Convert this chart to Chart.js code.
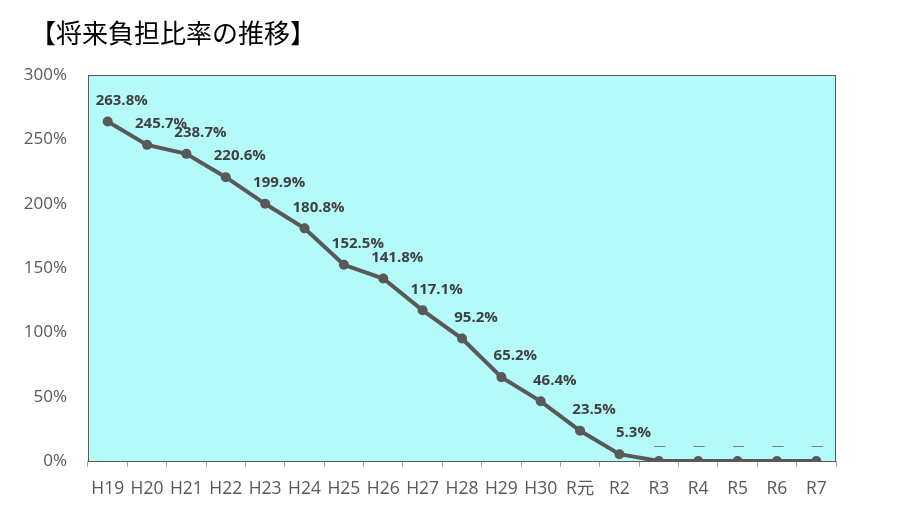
<!DOCTYPE html>
<html>
<head>
<meta charset="utf-8">
<script src="https://cdn.jsdelivr.net/npm/chart.js@4/dist/chart.umd.min.js"></script>
<style>
	html, body { margin: 0; padding: 0; background: #ffffff; }
	#wrap { width: 899px; height: 525px; }
</style>
</head>
<body>
<div id="wrap"><canvas id="cnv_ratio"></canvas></div>
<script>
// categories (fiscal years)
const years = ["H19", "H20", "H21", "H22", "H23", "H24", "H25", "H26", "H27", "H28", "H29", "H30", "R元", "R2", "R3", "R4", "R5", "R6", "R7"];
// future burden ratio, %
const ratioValues = [263.8, 245.7, 238.7, 220.6, 199.9, 180.8, 152.5, 141.8, 117.1, 95.2, 65.2, 46.4, 23.5, 5.3, 0, 0, 0, 0, 0];
// text shown above each point
const ratioLabels = ["263.8%", "245.7%", "238.7%", "220.6%", "199.9%", "180.8%", "152.5%", "141.8%", "117.1%", "95.2%", "65.2%", "46.4%", "23.5%", "5.3%", "―", "―", "―", "―", "―"];
const yTicks = [0, 50, 100, 150, 200, 250, 300];
const chartTitle = "【将来負担比率の推移】";

const lineColor = "#595959";

// plot area fill + border, and the title (drawn by hand so it can sit indented)
const plotArea = {
	id: "plotArea",
	beforeDraw(chart) {
		const { ctx, chartArea: a } = chart;
		ctx.save();
		ctx.fillStyle = "#b3faf8";
		ctx.fillRect(a.left, a.top, a.right - a.left, a.bottom - a.top);
		ctx.fillStyle = "#000000";
		ctx.font = "26px 'Noto Sans CJK JP'";
		ctx.textAlign = "left";
		ctx.textBaseline = "middle";
		ctx.fillText(chartTitle, 30, 33);
		ctx.restore();
	},
	afterDatasetsDraw(chart) {
		const { ctx, chartArea: a } = chart;
		ctx.save();
		ctx.strokeStyle = lineColor;
		ctx.lineWidth = 1;
		ctx.strokeRect(a.left + 0.5, a.top + 0.5, a.right - a.left - 1, a.bottom - a.top);
		ctx.restore();
	}
}

// point labels, like Excel data labels
const pointLabels = {
	id: "pointLabels",
	afterDatasetsDraw(chart) {
		const { ctx } = chart;
		const meta = chart.getDatasetMeta(0);
		ctx.save();
		ctx.fillStyle = "#404040";
		ctx.textAlign = "center";
		ctx.textBaseline = "middle";
		meta.data.forEach((pt, i) => {
			const txt = ratioLabels[i];
			const dash = txt === "―";
			const dx = dash ? 1 : 14;
			const dy = dash ? -15 : -21;
			ctx.font = dash ? "bold 13px 'Noto Sans CJK JP', sans-serif" : "bold 15px 'Open Sans', 'DejaVu Sans', sans-serif";
			ctx.fillText(txt, pt.x + dx, pt.y + dy);
		});
		ctx.restore();
	}
}

const ctx = document.getElementById("cnv_ratio").getContext("2d");
const ratioChart = new Chart(ctx, {
	type: "line",
	plugins: [plotArea, pointLabels],
	data: {
		labels: years,
		datasets: [{
			data: ratioValues,
			borderColor: lineColor,
			backgroundColor: lineColor,
			borderWidth: 4,
			pointRadius: 5,
			pointBackgroundColor: lineColor,
			pointBorderWidth: 0,
			tension: 0
		}]
	},
	options: {
		responsive: true,
		maintainAspectRatio: false,
		animation: false,
		layout: { padding: { left: 0, right: 63, top: 75, bottom: 14 } },
		plugins: {
			legend: { display: false },
			tooltip: { enabled: false },
			title: { display: false }
		},
		scales: {
			x: {
				offset: true,
				grid: {
					display: true,
					drawOnChartArea: false,
					offset: true,
					tickLength: 6,
					color: "#a6a6a6"
				},
				border: { display: false },
				ticks: {
					color: lineColor,
					padding: 12,
					maxRotation: 0,
					autoSkip: false,
					font: { family: "'Open Sans', 'Noto Sans CJK JP', sans-serif", size: 17.5 }
				},
				afterFit: (scale) => { scale.height = 50; }
			},
			y: {
				min: 0,
				max: 300,
				afterBuildTicks: (scale) => { scale.ticks = yTicks.map(v => ({ value: v })); },
				grid: { display: false },
				border: { display: false },
				ticks: {
					color: lineColor,
					padding: 13,
					callback: (v) => v + "%",
					font: { family: "'Open Sans', sans-serif", size: 17 }
				},
				afterFit: (scale) => { scale.width = 88; }
			}
		}
	}
});
</script>
</body>
</html>
